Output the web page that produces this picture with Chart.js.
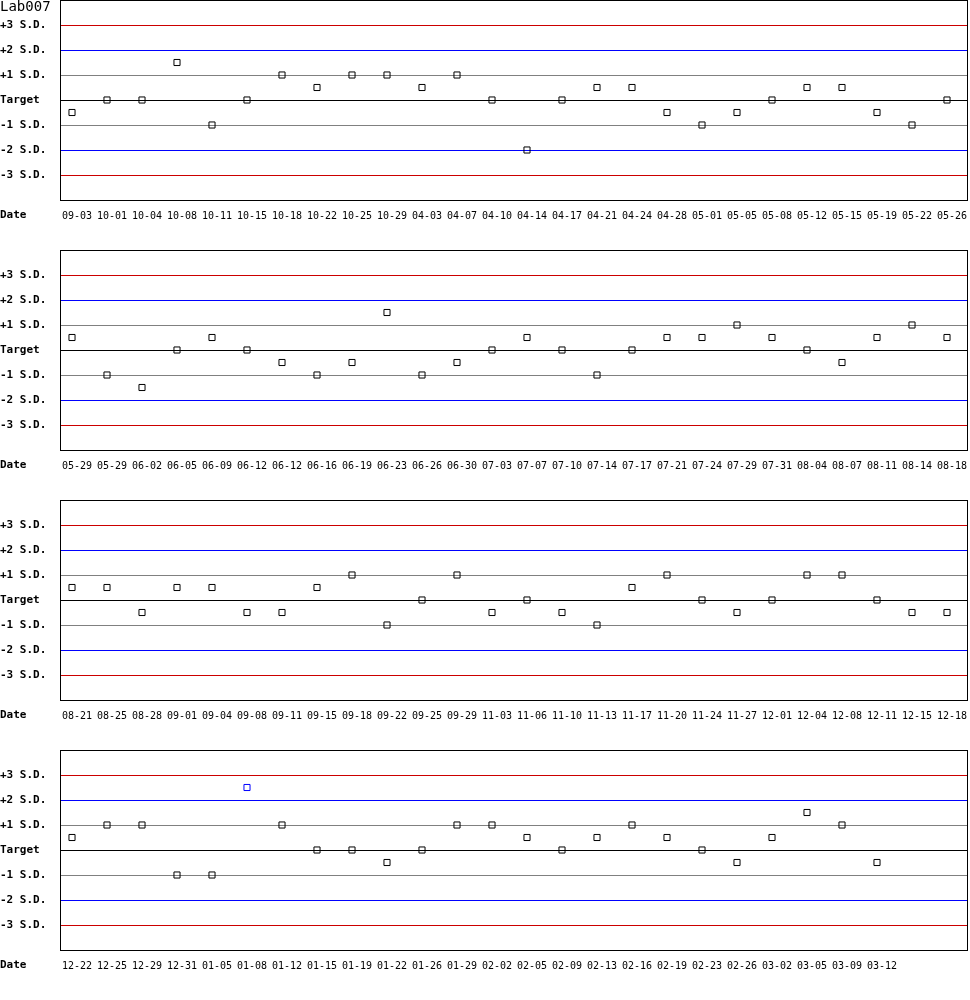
<!DOCTYPE html>
<html>
<head>
<meta charset="utf-8">
<script src="https://cdn.jsdelivr.net/npm/chart.js@4"></script>
<style>
  body { margin: 0; background: #fff; }
  #wrap { position: relative; width: 970px; }
  #title { position: absolute; left: 0; top: -2px; font: 14px "DejaVu Sans Mono", monospace; line-height: 16px; z-index: 2; }
  canvas { display: block; }
</style>
</head>
<body>
<div id="wrap">
  <div id="title">Lab007</div>
  <canvas id="c1" width="970" height="250"></canvas>
  <canvas id="c2" width="970" height="250"></canvas>
  <canvas id="c3" width="970" height="250"></canvas>
  <canvas id="c4" width="970" height="250"></canvas>
</div>
<script>
// dates and deviations (in S.D. units) for each row
const dates1 = ["09-03","10-01","10-04","10-08","10-11","10-15","10-18","10-22","10-25","10-29","04-03","04-07","04-10","04-14","04-17","04-21","04-24","04-28","05-01","05-05","05-08","05-12","05-15","05-19","05-22","05-26"];
const sd1 = [-0.5, 0, 0, 1.5, -1, 0, 1, 0.5, 1, 1, 0.5, 1, 0, -2, 0, 0.5, 0.5, -0.5, -1, -0.5, 0, 0.5, 0.5, -0.5, -1, 0];

const dates2 = ["05-29","05-29","06-02","06-05","06-09","06-12","06-12","06-16","06-19","06-23","06-26","06-30","07-03","07-07","07-10","07-14","07-17","07-21","07-24","07-29","07-31","08-04","08-07","08-11","08-14","08-18"];
const sd2 = [0.5, -1, -1.5, 0, 0.5, 0, -0.5, -1, -0.5, 1.5, -1, -0.5, 0, 0.5, 0, -1, 0, 0.5, 0.5, 1, 0.5, 0, -0.5, 0.5, 1, 0.5];

const dates3 = ["08-21","08-25","08-28","09-01","09-04","09-08","09-11","09-15","09-18","09-22","09-25","09-29","11-03","11-06","11-10","11-13","11-17","11-20","11-24","11-27","12-01","12-04","12-08","12-11","12-15","12-18"];
const sd3 = [0.5, 0.5, -0.5, 0.5, 0.5, -0.5, -0.5, 0.5, 1, -1, 0, 1, -0.5, 0, -0.5, -1, 0.5, 1, 0, -0.5, 0, 1, 1, 0, -0.5, -0.5];

const dates4 = ["12-22","12-25","12-29","12-31","01-05","01-08","01-12","01-15","01-19","01-22","01-26","01-29","02-02","02-05","02-09","02-13","02-16","02-19","02-23","02-26","03-02","03-05","03-09","03-12"];
const sd4 = [0.5, 1, 1, -1, -1, 2.5, 1, 0, 0, -0.5, 0, 1, 1, 0.5, 0, 0.5, 1, 0.5, 0, -0.5, 0.5, 1.5, 1, -0.5];

const yTicks = [-4, -3, -2, -1, 0, 1, 2, 3, 4];
const yLabels = ["", "-3 S.D.", "-2 S.D.", "-1 S.D.", "Target", "+1 S.D.", "+2 S.D.", "+3 S.D.", ""];

function lineColor(v) {
  const a = Math.round(Math.abs(v));
  if (a === 3) return "#cc0000";
  if (a === 2) return "#0000ff";
  if (a === 1) return "#808080";
  return "#000000";
}
const gridColors = yTicks.map(lineColor);

const frame = {
  id: "frame",
  afterDatasetsDraw(chart) {
    const a = chart.chartArea;
    const ctx = chart.ctx;
    ctx.save();
    ctx.strokeStyle = "#000";
    ctx.lineWidth = 1;
    ctx.strokeRect(Math.round(a.left) + 0.5, Math.round(a.top) + 0.5, Math.round(a.right - a.left) - 1, Math.round(a.bottom - a.top));
    ctx.fillStyle = "#000";
    ctx.font = "bold 11px 'DejaVu Sans Mono', monospace";
    ctx.textBaseline = "middle";
    ctx.textAlign = "left";
    ctx.fillText("Date", 0, a.bottom + 15);
    ctx.restore();
  }
};

function makeChart(id, dates, values) {
  const points = values.map((v, i) => ({ x: i, y: v }));
  return new Chart(document.getElementById(id), {
    type: "scatter",
    data: {
      datasets: [{
        data: points,
        pointStyle: "rect",
        pointRadius: 4.3,
        pointHoverRadius: 4.3,
        borderWidth: 1,
        backgroundColor: "rgba(0,0,0,0)",
        // out-of-control points (beyond 2 S.D.) are blue
        borderColor: values.map(v => (Math.abs(v) > 2 ? "#0000ff" : "#000000"))
      }]
    },
    options: {
      responsive: false,
      animation: false,
      events: [],
      layout: { autoPadding: false, padding: { left: 0, right: 2, top: 0, bottom: 0 } },
      plugins: { legend: { display: false }, tooltip: { enabled: false } },
      scales: {
        x: {
          type: "linear",
          min: -12 / 35,
          max: -12 / 35 + 908 / 35,
          afterBuildTicks: s => { s.ticks = dates.map((d, i) => ({ value: i })); },
          afterFit: s => { s.height = 50; s.paddingLeft = 0; s.paddingRight = 0; },
          grid: { display: false, drawTicks: false },
          border: { display: false },
          ticks: {
            autoSkip: false,
            maxRotation: 0,
            padding: 10,
            labelOffset: 5,
            color: "#000",
            font: { family: "'DejaVu Sans Mono', monospace", size: 10 },
            callback: v => dates[v] || ""
          }
        },
        y: {
          min: -4,
          max: 4,
          afterBuildTicks: s => { s.ticks = yTicks.map(v => ({ value: v })); },
          afterFit: s => { s.width = 60; s.paddingTop = 0; s.paddingBottom = 0; },
          grid: { drawTicks: false, lineWidth: 1, color: gridColors },
          border: { display: false },
          ticks: {
            autoSkip: false,
            crossAlign: "far",
            padding: 0,
            color: "#000",
            font: { family: "'DejaVu Sans Mono', monospace", size: 11, weight: "bold" },
            callback: v => yLabels[yTicks.indexOf(v)]
          }
        }
      }
    },
    plugins: [frame]
  });
}

makeChart("c1", dates1, sd1);
makeChart("c2", dates2, sd2);
makeChart("c3", dates3, sd3);
makeChart("c4", dates4, sd4);
</script>
</body>
</html>
